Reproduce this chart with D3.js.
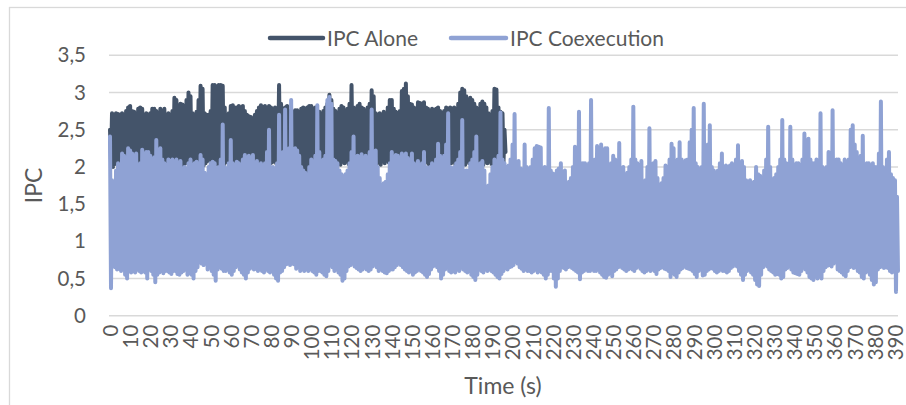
<!DOCTYPE html>
<html>
<head>
<meta charset="utf-8">
<script src="https://cdn.jsdelivr.net/npm/d3@7"></script>
<style>
  body { margin: 0; background: #fff; }
  svg { display: block; }
  text { font-family: Lato, "Open Sans", sans-serif; fill: #595959; }
</style>
</head>
<body>
<svg id="chart" width="906" height="405"></svg>
<script>
// Series labels and axis ticks
const seriesNames = ["IPC Alone", "IPC Coexecution"];
const xTicks = d3.range(0, 391, 10);
const yTicks = [0, 0.5, 1, 1.5, 2, 2.5, 3, 3.5];

// Per-second IPC peaks and dips, IPC Alone (0-196 s)
const aloneHigh = [
  2.5,2.72,2.7,2.72,2.71,2.7,2.72,2.7,2.75,2.8,
  2.82,2.75,2.74,2.72,2.78,2.8,2.78,2.7,2.72,2.7,
  2.72,2.78,2.78,2.75,2.72,2.78,2.75,2.78,2.7,2.72,
  2.7,2.75,2.93,2.9,2.8,2.85,2.84,2.75,2.9,3.0,
  2.95,2.72,2.7,2.74,2.9,3.09,3.05,2.72,2.7,2.7,
  2.75,3.1,3.1,3.08,3.1,3.1,3.09,2.8,2.7,2.72,
  2.82,2.83,2.8,2.8,2.82,2.8,2.82,2.75,2.7,2.68,
  2.67,2.65,2.7,2.75,2.8,2.83,2.8,2.82,2.78,2.82,
  2.8,2.75,2.8,2.78,3.1,2.85,2.75,2.8,2.82,2.75,
  2.7,2.74,2.76,2.76,2.72,2.78,2.8,2.78,2.8,2.82,
  2.82,2.78,2.8,2.72,2.74,2.7,2.75,2.8,2.85,2.97,
  2.9,2.78,2.75,2.72,2.78,2.82,2.8,2.75,2.78,2.85,
  3.1,2.8,2.78,2.82,2.85,2.8,2.78,2.75,2.8,2.85,
  3.03,2.95,2.72,2.7,2.72,2.7,2.74,2.72,2.8,2.9,
  2.9,2.78,2.74,2.72,2.75,3.02,3.05,3.12,2.95,2.85,
  2.84,2.8,2.78,2.87,2.86,2.85,2.87,2.8,2.78,2.75,
  2.78,2.76,2.78,2.8,2.75,2.72,2.75,2.8,2.78,2.8,
  2.78,2.8,2.78,2.85,3.0,3.05,3.03,2.95,2.9,2.93,
  2.9,2.85,2.8,2.78,2.85,2.88,2.85,2.8,2.72,2.7,
  2.75,3.05,3.04,2.8,2.74,2.72,2.5
];
const aloneLow = [
  2.05,2.0,2.04,2.08,2.05,2.1,2.06,2.02,2.08,2.1,
  2.05,2.07,2.03,2.1,2.06,2.08,2.04,2.1,2.05,2.02,
  2.08,2.05,2.1,2.06,2.04,2.08,2.1,2.05,2.07,2.03,
  2.08,2.05,2.1,2.04,2.06,2.08,2.02,2.05,2.1,2.06,
  2.03,2.08,2.05,2.1,2.04,2.07,2.02,2.05,2.08,2.1,
  2.05,2.04,2.07,2.03,2.08,2.05,2.02,2.06,2.1,2.05,
  2.08,2.04,2.06,2.1,2.05,2.07,2.03,2.08,2.05,2.1,
  2.06,2.04,2.08,2.05,2.1,2.03,2.07,2.05,2.09,2.04,
  2.06,2.1,2.05,2.08,2.02,2.05,2.07,2.1,2.04,2.0,
  1.98,2.05,2.08,2.05,2.1,2.04,1.95,1.9,1.92,2.0,
  2.05,2.08,2.04,2.1,2.06,2.03,2.08,2.05,2.1,2.06,
  2.04,2.08,2.05,2.1,2.03,2.07,2.05,2.09,2.04,2.06,
  2.1,2.05,2.08,2.03,2.05,2.07,2.1,2.04,2.06,2.08,
  2.05,2.1,2.04,2.07,2.03,2.08,2.05,2.1,2.06,2.04,
  2.08,2.05,2.1,2.06,2.03,2.07,2.05,2.09,2.04,2.06,
  2.1,2.05,2.08,2.04,2.06,2.1,2.05,2.07,2.03,2.08,
  2.05,2.1,2.06,2.04,2.08,2.05,2.1,2.03,2.07,2.05,
  2.08,2.04,2.06,2.1,2.05,2.07,2.03,2.08,2.05,2.1,
  2.06,2.04,2.08,2.05,2.1,2.03,2.07,2.05,2.09,2.04,
  2.06,2.1,2.05,2.08,2.04,2.06,2.2
];

// Per-second IPC peaks and dips, IPC Coexecution (0-391 s)
const coexecHigh = [
  2.41,1.82,1.75,1.95,2.05,1.9,2.18,2.15,2.0,2.25,
  2.22,2.18,2.12,2.18,1.92,2.05,2.23,2.1,2.2,2.2,
  2.15,2.1,2.13,2.36,2.2,2.25,2.1,2.05,1.95,2.1,
  2.08,2.1,2.06,2.1,2.05,2.08,1.98,2.0,1.95,2.05,
  2.1,2.0,2.05,2.07,1.98,2.16,2.1,1.92,1.9,2.0,
  2.05,2.07,2.05,1.95,2.0,2.1,2.57,2.0,1.95,2.05,
  2.36,2.05,2.0,2.07,2.05,1.95,2.1,2.16,2.1,2.15,
  2.12,2.16,2.05,2.08,2.0,2.05,1.98,2.05,2.2,2.5,
  1.85,2.0,1.9,2.05,2.7,2.15,2.2,2.77,2.1,2.25,
  2.9,2.1,2.25,2.22,2.15,2.0,1.95,1.92,1.9,2.0,
  2.1,2.05,2.15,2.83,2.2,2.08,2.1,2.15,2.9,2.94,
  2.85,2.1,2.08,2.05,1.95,1.9,1.82,1.9,1.95,2.05,
  2.2,2.41,2.1,2.15,2.13,2.17,2.12,2.15,2.1,2.2,
  2.77,2.15,2.22,2.0,1.85,1.75,1.78,1.8,1.9,2.05,
  2.2,2.0,2.16,2.15,2.1,2.18,2.1,2.18,2.12,2.05,
  2.18,2.05,2.02,2.08,1.98,2.05,2.2,2.0,1.98,2.0,
  2.05,2.0,2.1,2.31,2.15,2.05,2.15,2.3,2.72,2.0,
  1.98,2.0,2.05,2.1,2.2,2.63,1.85,1.95,1.95,2.05,
  2.1,2.2,2.41,2.0,2.05,2.08,1.95,1.7,1.75,1.9,
  2.0,2.1,2.05,2.15,2.73,2.1,2.05,2.0,2.02,2.1,
  2.3,2.71,2.05,2.08,1.98,1.95,2.3,2.0,1.9,2.0,
  2.1,2.25,2.28,2.27,2.26,1.9,2.0,1.9,2.79,1.95,
  1.91,1.9,1.95,1.98,2.05,1.85,1.95,1.78,1.8,1.85,
  2.0,2.27,2.05,2.74,2.05,2.05,2.05,2.0,2.05,2.9,
  2.05,2.1,2.28,2.25,2.3,2.2,2.25,2.25,2.0,2.05,
  2.15,2.1,2.0,2.32,1.95,2.0,1.9,1.92,2.0,2.1,
  2.81,2.1,2.05,2.0,2.08,1.8,1.82,2.0,2.52,2.0,
  2.05,2.08,1.85,1.76,1.78,1.85,2.02,2.0,2.1,2.31,
  2.25,2.02,2.1,2.33,2.1,2.05,2.09,2.1,2.33,2.5,
  2.79,2.05,2.0,1.95,2.0,2.85,2.0,2.3,2.56,2.0,
  1.95,1.9,1.95,2.05,2.18,2.0,2.02,2.0,2.02,2.05,
  2.0,2.1,2.29,2.05,2.08,2.0,1.82,1.8,1.82,1.78,
  1.8,2.0,1.9,1.88,1.85,1.95,2.1,2.54,2.0,1.82,
  1.85,1.9,2.0,2.1,2.63,2.1,2.05,2.0,2.54,2.1,
  2.0,2.05,2.05,1.95,2.1,2.45,2.35,2.38,2.1,2.05,
  2.05,2.1,2.05,2.72,2.0,1.95,2.0,2.2,2.1,2.76,
  2.05,2.1,2.1,2.05,2.0,2.1,2.05,2.1,2.5,2.56,
  2.3,2.2,2.1,2.15,2.42,2.0,2.05,2.05,2.0,2.05,
  2.0,2.0,2.18,2.88,2.0,1.95,2.1,2.2,1.9,1.85,
  1.82,1.6
];
const coexecLow = [
  0.37,0.84,0.65,0.62,0.63,0.6,0.62,0.55,0.5,0.6,
  0.58,0.6,0.58,0.62,0.6,0.58,0.6,0.58,0.5,0.62,
  0.6,0.55,0.45,0.55,0.58,0.6,0.57,0.6,0.6,0.58,
  0.56,0.6,0.6,0.56,0.55,0.58,0.6,0.62,0.55,0.57,
  0.55,0.5,0.6,0.65,0.72,0.7,0.68,0.7,0.62,0.65,
  0.6,0.55,0.47,0.62,0.66,0.63,0.6,0.6,0.62,0.58,
  0.55,0.6,0.65,0.68,0.62,0.58,0.55,0.5,0.58,0.63,
  0.65,0.62,0.63,0.6,0.62,0.6,0.58,0.63,0.6,0.58,
  0.6,0.55,0.5,0.47,0.58,0.6,0.65,0.69,0.7,0.68,
  0.7,0.69,0.63,0.65,0.6,0.62,0.6,0.62,0.6,0.63,
  0.6,0.58,0.55,0.6,0.6,0.58,0.55,0.53,0.6,0.74,
  0.65,0.6,0.62,0.58,0.55,0.47,0.5,0.6,0.66,0.68,
  0.7,0.66,0.64,0.62,0.6,0.62,0.65,0.62,0.6,0.62,
  0.66,0.79,0.65,0.6,0.62,0.6,0.58,0.57,0.6,0.62,
  0.62,0.65,0.68,0.7,0.68,0.65,0.62,0.6,0.58,0.6,
  0.55,0.58,0.6,0.62,0.6,0.58,0.55,0.52,0.56,0.62,
  0.66,0.68,0.65,0.6,0.5,0.55,0.62,0.65,0.6,0.58,
  0.6,0.58,0.62,0.6,0.65,0.62,0.6,0.58,0.6,0.55,
  0.52,0.48,0.55,0.62,0.6,0.58,0.62,0.6,0.62,0.6,
  0.58,0.55,0.52,0.5,0.56,0.6,0.64,0.62,0.65,0.66,
  0.68,0.84,0.7,0.65,0.63,0.6,0.62,0.6,0.6,0.58,
  0.6,0.62,0.58,0.6,0.58,0.55,0.5,0.55,0.6,0.6,
  0.5,0.39,0.5,0.6,0.65,0.64,0.62,0.65,0.66,0.64,
  0.62,0.6,0.58,0.49,0.58,0.6,0.62,0.6,0.6,0.62,
  0.6,0.6,0.62,0.58,0.55,0.52,0.51,0.55,0.58,0.53,
  0.6,0.62,0.65,0.66,0.64,0.62,0.6,0.62,0.64,0.62,
  0.6,0.64,0.66,0.63,0.6,0.58,0.6,0.62,0.6,0.62,
  0.6,0.56,0.62,0.64,0.65,0.63,0.62,0.6,0.52,0.6,
  0.55,0.52,0.58,0.62,0.64,0.66,0.64,0.63,0.62,0.6,
  0.56,0.52,0.6,0.62,0.54,0.55,0.6,0.62,0.64,0.63,
  0.6,0.58,0.6,0.62,0.6,0.6,0.58,0.6,0.64,0.66,
  0.8,0.66,0.6,0.55,0.48,0.55,0.6,0.62,0.58,0.55,
  0.48,0.42,0.4,0.55,0.65,0.75,0.66,0.62,0.6,0.58,
  0.55,0.56,0.55,0.5,0.52,0.62,0.64,0.66,0.62,0.58,
  0.57,0.56,0.55,0.6,0.65,0.62,0.58,0.52,0.5,0.48,
  0.6,0.5,0.58,0.5,0.6,0.65,0.67,0.68,0.66,0.7,
  0.78,0.62,0.6,0.58,0.55,0.53,0.6,0.65,0.66,0.64,
  0.65,0.6,0.58,0.52,0.5,0.58,0.6,0.55,0.48,0.42,
  0.45,0.62,0.65,0.66,0.64,0.65,0.64,0.6,0.58,0.6,
  0.32,0.6
];

const colors = ["#44546A", "#8FA2D4"];

// Each second holds a peak sample followed by a dip sample half a second later
function samples(high, low) {
  const pts = [];
  high.forEach((h, i) => {
    pts.push([i, h]);
    pts.push([i + 0.5, low[i]]);
  });
  return pts;
}

const svg = d3.select("#chart");

// Outer chart frame
svg.append("rect")
  .attr("x", 9.5).attr("y", 7.5)
  .attr("width", 1000).attr("height", 1000)
  .attr("fill", "none").attr("stroke", "#d9d9d9").attr("stroke-width", 1.3);

const x = d3.scaleLinear().domain([0, 391.5]).range([110, 898]);
const y = d3.scaleLinear().domain([0, 3.5]).range([315.7, 55.3]);

// Horizontal gridlines
svg.append("g")
  .selectAll("line")
  .data(yTicks)
  .join("line")
  .attr("x1", x(0) - 1).attr("x2", x(391.5))
  .attr("y1", d => y(d)).attr("y2", d => y(d))
  .attr("stroke", "#d9d9d9").attr("stroke-width", 1.5);

// Y axis labels (decimal comma)
const yAxis = svg.append("g")
  .attr("transform", `translate(${x(0) - 1},0)`)
  .call(d3.axisLeft(y).tickValues(yTicks).tickSize(0).tickPadding(23)
    .tickFormat(d => String(d).replace(".", ",")));
yAxis.select(".domain").remove();
yAxis.selectAll("text")
  .style("font-family", "Lato, 'Open Sans', sans-serif")
  .style("font-size", "20.5px").attr("fill", "#595959");

// X axis labels, rotated
const xAxis = svg.append("g")
  .attr("transform", `translate(0,${y(0)})`)
  .call(d3.axisBottom(x).tickValues(xTicks).tickSize(0).tickFormat(d3.format("d")));
xAxis.select(".domain").remove();
xAxis.selectAll("text")
  .attr("transform", "rotate(-90)")
  .attr("x", -9).attr("y", 0).attr("dy", "0.36em")
  .attr("text-anchor", "end")
  .style("font-family", "Lato, 'Open Sans', sans-serif")
  .style("font-size", "20.5px").attr("fill", "#595959");

// Series lines
const line = d3.line().x(d => x(d[0])).y(d => y(d[1]));
const series = [samples(aloneHigh, aloneLow), samples(coexecHigh, coexecLow)];
svg.append("g")
  .selectAll("path")
  .data(series)
  .join("path")
  .attr("d", line)
  .attr("fill", "none")
  .attr("stroke", (d, i) => colors[i])
  .attr("stroke-width", 4)
  .attr("stroke-linejoin", "round")
  .attr("stroke-linecap", "round");

// Legend
const legendX = [270, 451];
const legend = svg.append("g")
  .selectAll("g")
  .data(seriesNames)
  .join("g")
  .attr("transform", (d, i) => `translate(${legendX[i]},38)`);
legend.append("line")
  .attr("x1", 0).attr("x2", (d, i) => i === 0 ? 53 : 55)
  .attr("stroke", (d, i) => colors[i])
  .attr("stroke-width", 4.5).attr("stroke-linecap", "round");
legend.append("text")
  .attr("x", (d, i) => i === 0 ? 57 : 59)
  .attr("dy", "0.36em")
  .style("font-size", "21px")
  .text(d => d);

// Axis titles
svg.append("text")
  .attr("transform", `translate(34,${(y(0) + y(3.5)) / 2}) rotate(-90)`)
  .attr("text-anchor", "middle").attr("dy", "0.36em")
  .style("font-size", "23px")
  .text("IPC");
svg.append("text")
  .attr("x", 503).attr("y", 394)
  .attr("text-anchor", "middle")
  .style("font-size", "23px")
  .text("Time (s)");
</script>
</body>
</html>
